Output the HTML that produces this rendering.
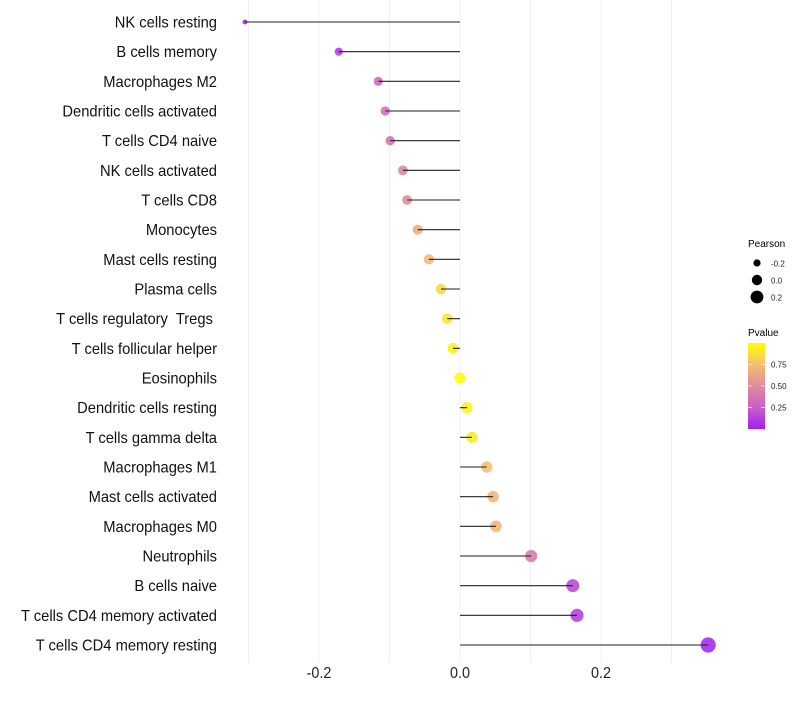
<!DOCTYPE html>
<html><head><meta charset="utf-8"><style>
body{margin:0;background:#fff;font-family:"Liberation Sans",sans-serif}
text{white-space:pre}
</style></head><body>
<svg id="c" width="800" height="700" xmlns="http://www.w3.org/2000/svg"></svg>
<script>
const categories=["NK cells resting","B cells memory","Macrophages M2","Dendritic cells activated","T cells CD4 naive","NK cells activated","T cells CD8","Monocytes","Mast cells resting","Plasma cells","T cells regulatory  Tregs ","T cells follicular helper","Eosinophils","Dendritic cells resting","T cells gamma delta","Macrophages M1","Mast cells activated","Macrophages M0","Neutrophils","B cells naive","T cells CD4 memory activated","T cells CD4 memory resting"];
const pearson=[-0.305,-0.172,-0.116,-0.106,-0.099,-0.081,-0.075,-0.060,-0.044,-0.027,-0.018,-0.010,0.000,0.010,0.017,0.038,0.047,0.051,0.101,0.160,0.166,0.352];
const pvalues=[0.02,0.1,0.3,0.33,0.35,0.45,0.5,0.65,0.72,0.85,0.9,0.95,1.0,0.95,0.92,0.75,0.7,0.7,0.4,0.15,0.12,0.03];
const xTicks=[-0.2,0.0,0.2];
const xGrid=[-0.3,-0.2,-0.1,0,0.1,0.2,0.3];
const sizeLegend=[-0.2,0.0,0.2];
const colorTicks=[0.25,0.5,0.75];

const NS="http://www.w3.org/2000/svg";
const svg=document.getElementById('c');
const x=v=>460+v*705;
const y=i=>22+i*(623/21);
const r=v=>Math.sqrt(Math.max(3,30+78*v));
const stops=[[0,[160,32,240]],[0.25,[200,96,200]],[0.5,[222,140,155]],[0.75,[242,192,112]],[1,[255,255,0]]];
function col(p){for(let k=1;k<stops.length;k++){if(p<=stops[k][0]){const a=stops[k-1],b=stops[k],t=(p-a[0])/(b[0]-a[0]);return 'rgb('+a[1].map((c,j)=>Math.round(c+(b[1][j]-c)*t)).join(',')+')';}}return 'rgb(255,255,0)';}
function el(t,at,txt){const e=document.createElementNS(NS,t);for(const k in at)e.setAttribute(k,at[k]);if(txt!==undefined)e.textContent=txt;svg.appendChild(e);return e;}

xGrid.forEach(v=>{const g=el('line',{x1:x(v),x2:x(v),y1:0,y2:663,stroke:'#f0f0f0','stroke-width':1});

});
xTicks.forEach(v=>{const t=el('text',{transform:'translate('+x(v)+',678) scale(0.93,1)','text-anchor':'middle','font-size':15.5,fill:'#222'},v.toFixed(1));

});
categories.forEach((c,i)=>{
const t=el('text',{transform:'translate(217,'+(y(i)+5.5)+') scale(0.95,1)','text-anchor':'end','font-size':15.5,fill:'#111','xml:space':'preserve'},c);


const p=el('circle',{cx:x(pearson[i]),cy:y(i),r:r(pearson[i]),fill:col(pvalues[i]),'fill-opacity':0.88});


const s=el('line',{x1:x(0),x2:x(pearson[i]),y1:y(i),y2:y(i),stroke:'#222','stroke-width':1.1});


});
const lt=el('text',{x:748,y:247,'font-size':10,fill:'#000'},'Pearson');


sizeLegend.forEach((v,k)=>{const cy=263+k*17;
const c=el('circle',{cx:757,cy:cy,r:r(v)*0.95,fill:'#000'});


const t=el('text',{x:771,y:cy+3.5,'font-size':8,fill:'#222'},v.toFixed(1));

});
const ct=el('text',{x:748,y:336,'font-size':10,fill:'#000'},'Pvalue');


const defs=el('defs',{});
const lg=document.createElementNS(NS,'linearGradient');lg.setAttribute('id','pg');lg.setAttribute('x1',0);lg.setAttribute('y1',1);lg.setAttribute('x2',0);lg.setAttribute('y2',0);
stops.forEach(s=>{const st=document.createElementNS(NS,'stop');st.setAttribute('offset',s[0]);st.setAttribute('stop-color',col(s[0]));lg.appendChild(st);});
defs.appendChild(lg);
const cb=el('rect',{x:748,y:343,width:17,height:86,fill:'url(#pg)'});


const cy0=429,cy1=343;const cyv=p=>cy0-p*(cy0-cy1);
colorTicks.forEach(p=>{
const l=el('line',{x1:748,x2:752,y1:cyv(p),y2:cyv(p),stroke:'#fff','stroke-opacity':0.6});


const l2=el('line',{x1:761,x2:765,y1:cyv(p),y2:cyv(p),stroke:'#fff','stroke-opacity':0.6});


const t=el('text',{x:771,y:cyv(p)+3,'font-size':8,fill:'#222'},p.toFixed(2));

});
</script>
</body></html>
